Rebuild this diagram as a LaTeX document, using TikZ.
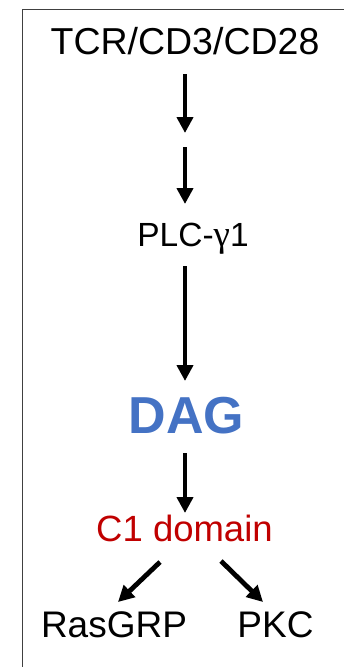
\documentclass[tikz,border=0pt]{standalone}
\usepackage{fontspec}
\setmainfont{Liberation Sans}
\newfontfamily\greekfont{Liberation Serif}
\usetikzlibrary{arrows.meta}
\definecolor{dagblue}{HTML}{4472C4}
\definecolor{c1red}{HTML}{C00000}
\definecolor{framegray}{HTML}{404040}
\begin{document}
\begin{tikzpicture}[x=1pt,y=-1pt,
  lbl/.style={anchor=base,inner sep=0pt,font=\fontsize{37}{40}\selectfont},
  arr/.style={line width=4.8pt,-{Triangle[width=16pt,length=16pt]}}]
\useasboundingbox (0,0) rectangle (344,667);
\draw[framegray,line width=1.1pt] (22.5,667) -- (22.5,9.5) -- (344,9.5);
\node[lbl,font=\fontsize{37.5}{40}\selectfont] (tcr) at (185,54) {TCR/CD3/CD28};
\node[lbl,font=\fontsize{33.5}{36}\selectfont] (plc) at (193,246.5) {PLC-{\greekfont\fontsize{37}{40}\selectfont γ}1};
\node[lbl,font=\fontsize{52}{56}\selectfont\bfseries,text=dagblue] (dag) at (186.5,433) {DAG};
\node[lbl,font=\fontsize{36.5}{40}\selectfont,text=c1red] (c1) at (184.5,541) {C1 domain};
\node[lbl] (ras) at (114,637) {RasGRP};
\node[lbl] (pkc) at (275.5,637) {PKC};
\coordinate (a1s) at (185,74);   \coordinate (a1e) at (185,133);
\coordinate (a2s) at (185,147);  \coordinate (a2e) at (185,204);
\coordinate (a3s) at (185,266);  \coordinate (a3e) at (185,381);
\coordinate (a4s) at (185,453);  \coordinate (a4e) at (185,513);
\coordinate (l1s) at (160,562);  \coordinate (l1e) at (118,602);
\coordinate (r1s) at (221,561);  \coordinate (r1e) at (263,602);
\draw[arr] (a1s) -- (a1e);
\draw[arr] (a2s) -- (a2e);
\draw[arr] (a3s) -- (a3e);
\draw[arr] (a4s) -- (a4e);
\draw[arr] (l1s) -- (l1e);
\draw[arr] (r1s) -- (r1e);
\end{tikzpicture}
\end{document}
